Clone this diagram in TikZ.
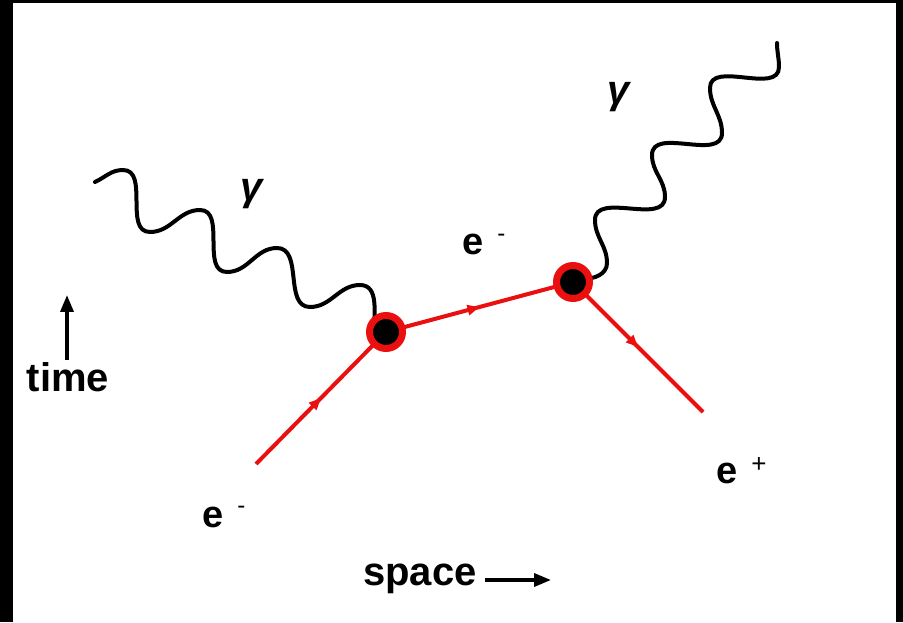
\documentclass[tikz,border=0pt]{standalone}
\usepackage{fontspec}
\setmainfont{Liberation Sans}
\usetikzlibrary{arrows.meta,decorations.markings}
\definecolor{fermred}{RGB}{235,16,16}
\pgfdeclarelayer{bg}
\pgfsetlayers{bg,main}
\newcommand\supfont{\fontsize{24}{24}\selectfont\mdseries}
\begin{document}
\begin{tikzpicture}[x=1pt,y=1pt,
  vertex/.style={circle,fill=black,draw=fermred,line width=7pt,minimum size=33pt,inner sep=0pt},
  fermion/.style={draw=fermred,line width=4pt,postaction={decorate},
    decoration={markings,mark=at position 0.5 with {\arrow[fermred]{Triangle[length=12pt,width=10pt]}}}},
  photon/.style={draw=black,line width=4pt,line cap=round},
  elabel/.style={anchor=base west,inner sep=0pt,font=\fontsize{38}{40}\selectfont\bfseries},
  glabel/.style={anchor=base,inner sep=0pt,font=\fontsize{40}{42}\selectfont\bfseries\itshape},
  axislabel/.style={anchor=base,inner sep=0pt,font=\fontsize{40}{42}\selectfont\bfseries},
  axisarrow/.style={line width=3.5pt,-{Triangle[length=17pt,width=13pt]}}
]
\useasboundingbox (0,0) rectangle (903,622);
\begin{pgfonlayer}{bg}
\fill[black] (0,0) rectangle (903,622);
\fill[white] (13,0) rectangle (896,619);
\end{pgfonlayer}

\node[vertex] (v1) at (386,290) {};
\node[vertex] (v2) at (573,340) {};
\coordinate (ein) at (256,158);
\coordinate (eout) at (703,210);

\begin{pgfonlayer}{bg}
\draw[fermion] (ein) -- (v1.center);
\draw[fermion] (v1.center) -- (v2.center);
\draw[fermion] (v2.center) -- (eout);
\draw[photon] (95,440) to[out=25,in=180] (123,452) to[out=0,in=180] (150,390)
  to[out=0,in=180] (200,412) to[out=0,in=180] (227,350) to[out=0,in=180] (277,374)
  to[out=0,in=180] (310,315) to[out=0,in=180] (360,337) to[out=0,in=90] ([shift={(-12,0)}]v1.center);
\draw[photon] ([shift={(10,3)}]v2.center) to[out=0,in=-90] (607,359) to[out=90,in=-90] (595,402)
  to[out=90,in=-90] (665,425) to[out=90,in=-90] (652,467) to[out=90,in=-90] (722,489)
  to[out=90,in=-90] (710,534) to[out=90,in=-90] (779,555) to[out=90,in=-90] (777,579);
\end{pgfonlayer}

\coordinate (t0) at (67,262); \coordinate (t1) at (67,327);
\draw[axisarrow] (t0) -- (t1);
\coordinate (s0) at (485,42); \coordinate (s1) at (551,42);
\draw[axisarrow] (s0) -- (s1);

\node[axislabel] (time) at (68,230) {time};
\node[axislabel] (space) at (420,37) {space};
\node[glabel] (g1) at (252,421) {γ};
\node[glabel] (g2) at (619,518) {γ};
\node[elabel] (e1) at (202,95) {e\hspace{14pt}\raisebox{13.5pt}{\supfont -}};
\node[elabel] (e2) at (462,367) {e\hspace{14pt}\raisebox{13.5pt}{\supfont -}};
\node[elabel] (e3) at (716,139) {e\hspace{14pt}\raisebox{10.5pt}{\supfont\fontsize{26}{26}\selectfont +}};
\end{tikzpicture}
\end{document}
